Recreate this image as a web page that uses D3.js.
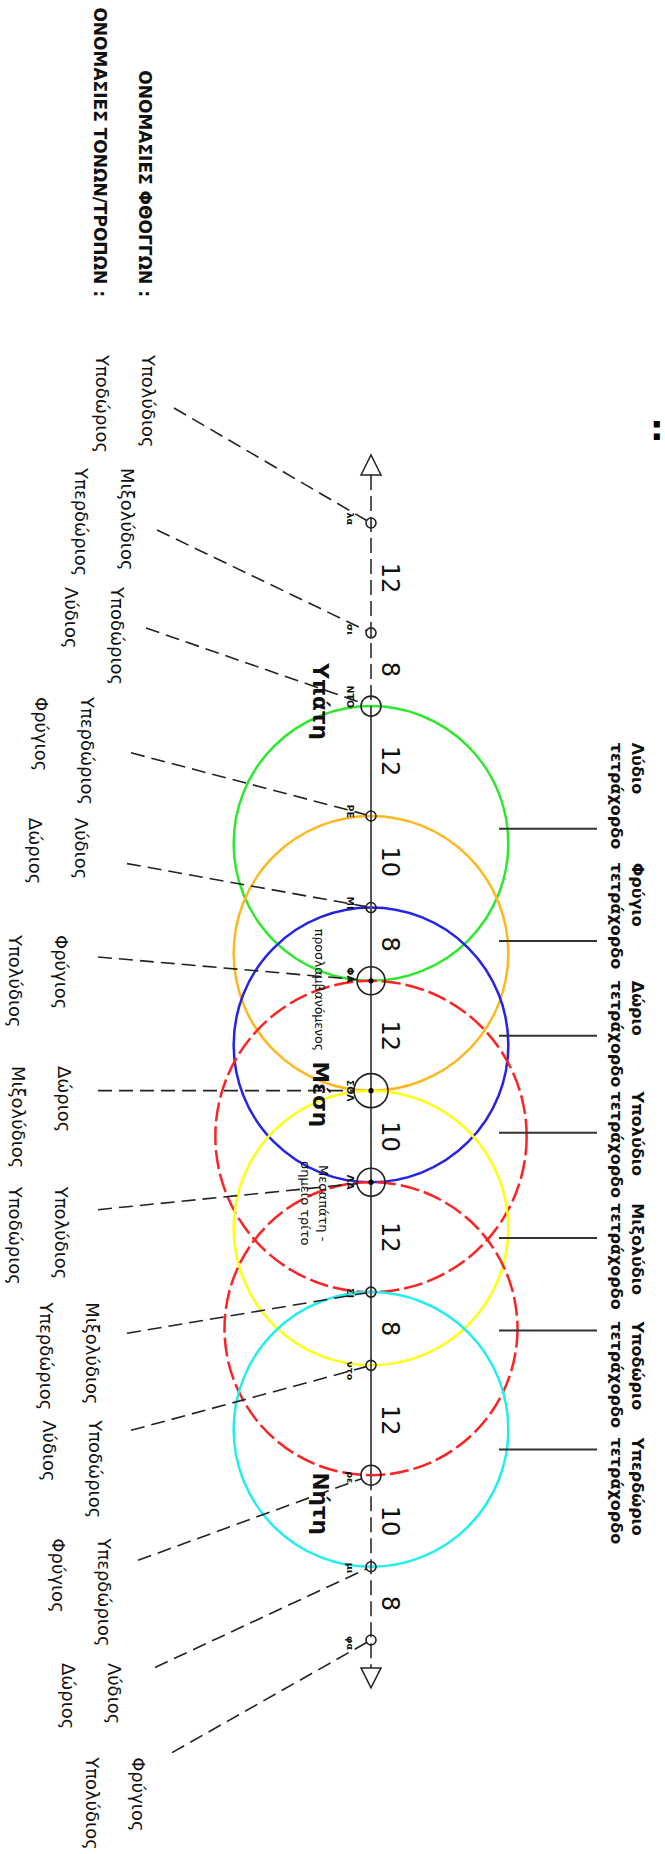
<!DOCTYPE html>
<html><head><meta charset="utf-8">
<script src="https://cdn.jsdelivr.net/npm/d3@7"></script>
<style>html,body{margin:0;padding:0;background:#fff}svg{display:block}</style>
</head><body>
<script>
// ---------- DATA ----------
const notes = ["λα","σι","ΝΤΟ","ΡΕ","ΜΙ","ΦΑ","ΣΟΛ","ΛΑ","ΣΙ","ντο","ρε","μι","φα"];
const intervals = [12,8,12,10,8,12,10,12,8,12,10,8];          // moria between successive notes
const noteRank = [0,0,1,0,0,2,3,2,0,0,1,0,0];                   // 0 small, 1 υπάτη/νήτη, 2 secondary, 3 μέση
const noteDots = [0,0,0,0,0,1,1,1,0,0,0,0,0];
const principalNames = ["Υπάτη","Μέση","Νήτη"];
const principalAt = [19.5,62.4,107.1];                          // moria
const tetraNames = ["Λύδιο","Φρύγιο","Δώριο","Υπολύδιο","Μιξολύδιο","Υποδώριο","Υπερδώριο"];
const tetraFrom = [2,3,4,5,6,7,8];
const tetraTo   = [5,6,7,8,9,10,11];
const tetraColors = ["#2ee82e","#ffb71f","#2424e6","#ff2222","#ffff10","#ff2222","#22eeee"];
const tetraDashed = [false,false,false,true,false,true,false];
const tetraLineAt = [33.4,45.65,56.0,66.6,78.1,88.2,101.2];     // moria
const tetraTextAt = [24.0,37.1,50.0,62.1,74.3,87.2,99.9];       // moria
const toneNamesA = ["Υπολύδιος","Μιξολύδιος","Υποδώριος","Υπερδώριος","Λύδιος","Φρύγιος","Δώριος","Υπολύδιος","Μιξολύδιος","Υποδώριος","Υπερδώριος","Λύδιος","Φρύγιος"];
const toneNamesB = ["Υποδώριος","Υπερδώριος","Λύδιος","Φρύγιος","Δώριος","Υπολύδιος","Μιξολύδιος","Υποδώριος","Υπερδώριος","Λύδιος","Φρύγιος","Δώριος","Υπολύδιος"];
const headers = ["ΟΝΟΜΑΣΙΕΣ ΦΘΟΓΓΩΝ :","ΟΝΟΜΑΣΙΕΣ ΤΟΝΩΝ/ΤΡΟΠΩΝ :"];
const sideNote1 = ["προσλαμβανόμενος"];
const sideNote2 = ["Μεσαπάτη -","σημείο τρίτο"];

// ---------- LAYOUT (annotation placement) ----------
const toneLabelAt = [-18.35,-6.0,7.0,19.0,32.2,45.0,59.3,72.5,85.1,98.0,110.9,124.5,134.8];
const toneLabelX  = [148,127,117,87,81,61,64,61,92,95,104,114,138];
const leaderFromX = [174,157,146,131,127,98,98,98,127,131,138,155,172];
const leaderFromAt= [-12.56,0.76,11.47,25.1,37.2,47.4,62.0,75.0,88.5,99.1,113.3,125.0,134.3];

const W = 665, H = 1854, AX = 371;
const svg = d3.select("body").append("svg").attr("width",W).attr("height",H)
  .style("font-family","'DejaVu Sans', sans-serif");
svg.append("rect").attr("width",W).attr("height",H).attr("fill","#fff");

const cum = [0, ...Array.from(d3.cumsum(intervals))];
const y = d3.scaleLinear().domain([0,122]).range([523,1640]);
const rScale = d3.scaleOrdinal().domain([0,1,2,3]).range([5,10,14,17]);

function rtext(g, x, yy, str, o){
  const t = g.append("text").attr("transform",`translate(${x},${yy}) rotate(90)`).text(str)
    .attr("font-size",o.size).attr("fill",o.fill||"#111")
    .attr("text-anchor",o.anchor||"start");
  if(o.bold) t.attr("font-weight","bold");
  return t;
}

// tetrachord circles
const gC = svg.append("g");
tetraNames.forEach((n,i)=>{
  const y1 = y(cum[tetraFrom[i]]), y2 = y(cum[tetraTo[i]]);
  gC.append("circle").attr("cx",AX).attr("cy",(y1+y2)/2).attr("r",(y2-y1)/2)
    .attr("fill","none").attr("stroke",tetraColors[i]).attr("stroke-width",2.5)
    .attr("stroke-dasharray",tetraDashed[i]?"19,5":null);
});

// axis
const gA = svg.append("g");
const yTop = y(-5.25), yBot = y(125.05);
gA.append("line").attr("x1",AX).attr("x2",AX).attr("y1",yTop).attr("y2",y(cum[2]))
  .attr("stroke","#555").attr("stroke-width",2).attr("stroke-dasharray","15,6");
gA.append("line").attr("x1",AX).attr("x2",AX).attr("y1",y(cum[2])).attr("y2",y(cum[10]))
  .attr("stroke","#555").attr("stroke-width",2);
gA.append("line").attr("x1",AX).attr("x2",AX).attr("y1",y(cum[10])).attr("y2",yBot)
  .attr("stroke","#555").attr("stroke-width",2).attr("stroke-dasharray","15,6");
gA.append("path").attr("d",`M${AX-10},${yTop}L${AX+10},${yTop}L${AX},${yTop-20}Z`)
  .attr("fill","#fff").attr("stroke","#222").attr("stroke-width",1.5);
gA.append("path").attr("d",`M${AX-10},${yBot}L${AX+10},${yBot}L${AX},${yBot+20}Z`)
  .attr("fill","#fff").attr("stroke","#222").attr("stroke-width",1.5);

// interval numbers
intervals.forEach((v,i)=>{
  rtext(svg, 382, y((cum[i]+cum[i+1])/2), String(v), {size:24, anchor:"middle", fill:"#111"});
});

// leaders
const gL = svg.append("g");
notes.forEach((n,i)=>{
  const nx = AX, ny = y(cum[i]);
  const sx = leaderFromX[i], sy = y(leaderFromAt[i]);
  const dx = nx-sx, dy = ny-sy, L = Math.hypot(dx,dy), r = rScale(noteRank[i]);
  gL.append("line").attr("x1",sx).attr("y1",sy).attr("x2",nx-dx/L*r).attr("y2",ny-dy/L*r)
    .attr("stroke","#222").attr("stroke-width",1.6).attr("stroke-dasharray","14,7");
});

// node markers and labels
const gN = svg.append("g");
notes.forEach((n,i)=>{
  const ny = y(cum[i]);
  gN.append("circle").attr("cx",AX).attr("cy",ny).attr("r",rScale(noteRank[i]))
    .attr("fill","none").attr("stroke","#222").attr("stroke-width",1.6);
  if(noteDots[i]) gN.append("circle").attr("cx",AX).attr("cy",ny).attr("r",2.6).attr("fill","#000");
  const sy = y(leaderFromAt[i]);
  let anchor = "middle", yy = ny;
  if (sy < ny-10){anchor="end"; yy = ny+2;}
  else if (sy > ny+30){anchor="start"; yy = ny-4;}
  rtext(gN, 347, yy, n, {size:9.5, bold:true, anchor});
});

// principal notes
principalNames.forEach((n,i)=>{
  rtext(svg, 313, y(principalAt[i]), n, {size:21.5, bold:true, anchor:"middle"});
});
rtext(svg, 315, y(51.0), sideNote1[0], {size:12.5, anchor:"middle"});
rtext(svg, 319, y(74.3), sideNote2[0], {size:13, anchor:"middle"});
rtext(svg, 301, y(74.3), sideNote2[1], {size:13, anchor:"middle"});

// tetrachord labels
tetraNames.forEach((n,i)=>{
  const ly = y(tetraLineAt[i]);
  svg.append("line").attr("x1",499).attr("x2",597).attr("y1",ly).attr("y2",ly)
    .attr("stroke","#333").attr("stroke-width",2);
  rtext(svg, 632, y(tetraTextAt[i]), n, {size:16, bold:true});
  rtext(svg, 611, y(tetraTextAt[i]), "τετράχορδο", {size:16, bold:true});
});

// tone / mode names
toneNamesA.forEach((n,i)=>{
  rtext(svg, toneLabelX[i]-6, y(toneLabelAt[i]), n, {size:18});
  rtext(svg, toneLabelX[i]-52, y(toneLabelAt[i]), toneNamesB[i], {size:18});
});

// headers
rtext(svg, 139, 297, headers[0], {size:17, bold:true, anchor:"end"});
rtext(svg, 94, 297, headers[1], {size:17, bold:true, anchor:"end"});
svg.append("text").attr("x",650).attr("y",440).attr("font-size",34).attr("font-weight","bold").text(":");
</script>
</body></html>
